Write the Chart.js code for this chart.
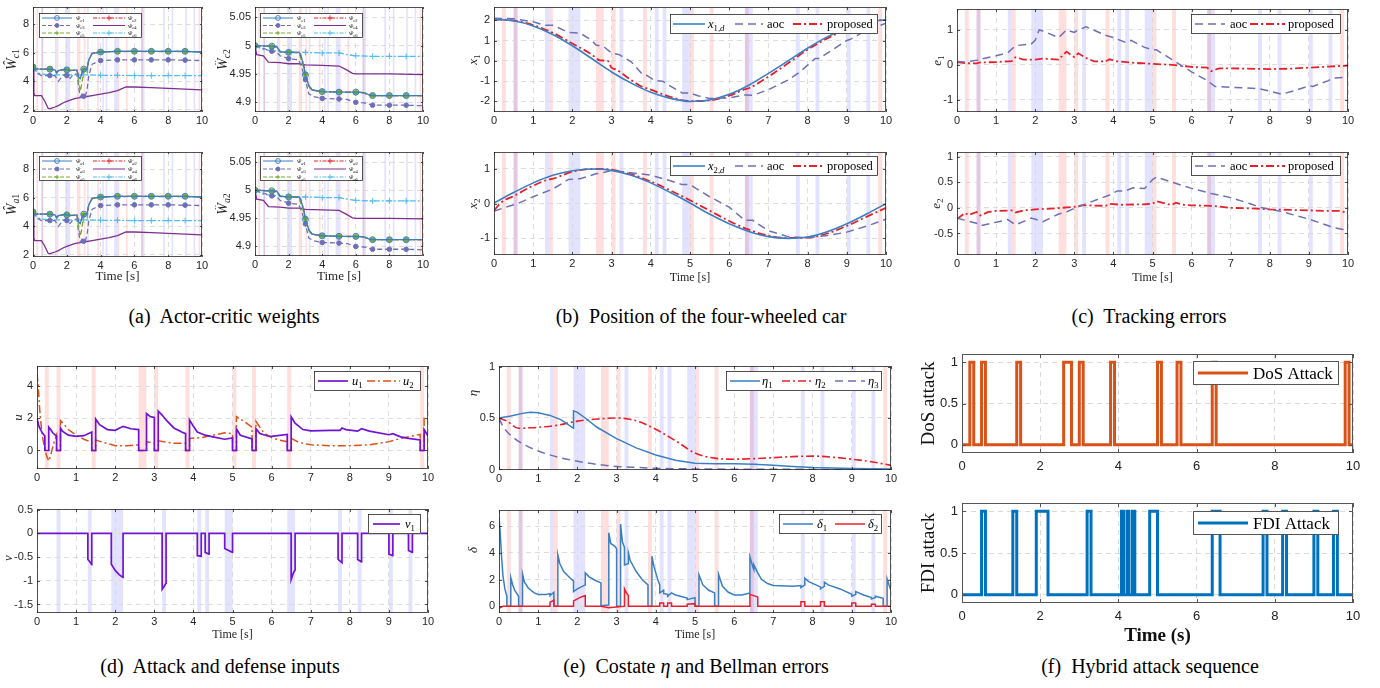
<!DOCTYPE html>
<html><head><meta charset="utf-8">
<script src="https://cdn.jsdelivr.net/npm/chart.js@4.4.1/dist/chart.umd.min.js"></script>
<style>
html,body{margin:0;padding:0;background:#fff;}
body{width:1380px;height:688px;position:relative;overflow:hidden;}
.cap{position:absolute;font-family:"Liberation Serif","Times New Roman",serif;font-size:20px;color:#000;white-space:nowrap;line-height:22px;transform:translateX(-50%);}
</style></head><body>
<div class="cap" style="left:224px;top:305px">(a)&nbsp; Actor-critic weights</div>
<div class="cap" style="left:701px;top:305px">(b)&nbsp; Position of the four-wheeled car</div>
<div class="cap" style="left:1149px;top:305px">(c)&nbsp; Tracking errors</div>
<div class="cap" style="left:220px;top:655px">(d)&nbsp; Attack and defense inputs</div>
<div class="cap" style="left:696px;top:655px">(e)&nbsp; Costate <i>η</i> and Bellman errors</div>
<div class="cap" style="left:1150px;top:655px">(f)&nbsp; Hybrid attack sequence</div>
<script>
// ---------------- DATA ----------------
const XT2 = [0,2,4,6,8,10];
const XT1 = [0,1,2,3,4,5,6,7,8,9,10];
const DOS = [[0.2,0.3],[0.5,0.6],[1.4,1.5],[2.6,2.8],[3.0,3.1],[3.8,3.9],[5.0,5.1],[5.5,5.6],[6.4,6.5],[9.8,9.9]];
const FDI = [[0.5,0.6],[1.3,1.4],[1.9,2.2],[3.2,3.3],[4.1,4.2],[4.3,4.4],[4.8,5.0],[6.4,6.6],[7.7,7.8],[8.2,8.3],[9.0,9.1],[9.5,9.6]];
const FDI_PULSES = [[0.5,0.6],[1.3,1.4],[1.9,2.2],[3.2,3.3],[4.08,4.13],[4.22,4.27],[4.36,4.42],[4.8,5.0],[6.4,6.6],[7.7,7.8],[8.2,8.3],[9.0,9.1],[9.5,9.6]];

// weights, first element
const w1_c1 = [[0,5.0],[0.1,4.87],[0.5,4.85],[1,4.85],[1.3,4.8],[1.4,4.6],[1.5,4.75],[1.9,4.85],[2,4.8],[2.2,4.75],[2.6,4.8],[2.7,4.3],[2.8,4.2],[2.9,4.6],[3,4.85],[3.1,4.85],[3.2,4.9],[3.3,5.5],[3.5,5.95],[4,6.05],[5,6.1],[6,6.1],[7,6.1],[8,6.1],[9,6.1],[10,6.05]];
const w1_c2 = w1_c1;
const w1_c3 = [[0,5.0],[0.2,4.6],[0.5,4.4],[1,4.4],[1.3,4.4],[1.5,4.0],[1.7,4.3],[1.9,4.5],[2,4.4],[2.2,4.2],[2.4,4.5],[2.6,4.5],[2.7,3.6],[2.8,2.9],[2.9,3.1],[3,2.95],[3.1,3.0],[3.2,3.4],[3.3,4.4],[3.5,5.2],[4,5.45],[5,5.5],[6,5.5],[7,5.5],[8,5.5],[9,5.48],[10,5.45]];
const w1_c4 = [[0,5.0],[0.05,3.2],[0.1,3.0],[0.5,3.0],[0.7,2.6],[0.9,2.1],[1,2.08],[1.3,2.2],[1.5,2.3],[1.8,2.5],[2,2.6],[2.5,2.8],[2.8,2.85],[3,2.9],[3.5,3.0],[4,3.1],[4.5,3.2],[5,3.35],[5.5,3.6],[6,3.6],[7,3.55],[8,3.5],[9,3.45],[10,3.4]];
const w1_c5 = [[0,5.0],[0.1,4.85],[1,4.85],[1.3,4.8],[1.4,4.55],[1.5,4.75],[2,4.8],[2.6,4.75],[2.7,4.0],[2.8,3.3],[2.9,3.9],[3,4.8],[3.2,4.6],[3.3,5.5],[3.5,5.95],[4,6.05],[5,6.1],[6,6.1],[7,6.1],[8,6.1],[9,6.1],[10,6.05]];
const w1_c6 = [[0,5.0],[0.3,4.6],[0.5,4.5],[1,4.45],[2,4.45],[3,4.45],[4,4.42],[5,4.42],[6,4.4],[7,4.4],[8,4.4],[9,4.4],[10,4.4]];
// weights, second element
const w2_c1 = [[0,5.0],[1,4.999],[1.3,4.998],[1.5,4.989],[2,4.988],[2.6,4.988],[2.7,4.985],[2.9,4.965],[3,4.948],[3.2,4.93],[3.4,4.922],[4,4.919],[5,4.918],[6,4.918],[6.5,4.917],[6.8,4.913],[7,4.912],[8,4.912],[9,4.912],[10,4.912]];
const w2_c2 = w2_c1;
const w2_c3 = [[0,5.0],[0.5,4.995],[1,4.99],[1.3,4.988],[1.5,4.982],[2,4.977],[2.6,4.975],[2.8,4.96],[3,4.94],[3.2,4.915],[3.5,4.91],[4,4.907],[5,4.906],[5.5,4.905],[6,4.9],[6.5,4.899],[7,4.895],[8,4.895],[9,4.895],[10,4.894]];
const w2_c4 = [[0,5.0],[0.1,4.984],[0.5,4.982],[0.8,4.971],[1.5,4.97],[2,4.968],[2.6,4.968],[3,4.966],[4,4.965],[5,4.964],[5.4,4.958],[5.8,4.951],[6,4.95],[8,4.95],[10,4.949]];
const w2_c5 = [[0,5.0],[1,4.998],[1.3,4.997],[1.5,4.989],[2,4.988],[2.6,4.987],[2.7,4.98],[2.9,4.96],[3,4.95],[3.2,4.928],[3.4,4.921],[4,4.919],[5,4.918],[6,4.917],[6.5,4.916],[6.8,4.913],[7,4.912],[8,4.912],[9,4.912],[10,4.912]];
const w2_c6 = [[0,5.0],[0.5,4.993],[1,4.991],[2,4.989],[3,4.988],[4,4.987],[5,4.987],[5.5,4.984],[6,4.982],[7,4.981],[8,4.981],[9,4.981],[10,4.981]];

// positions
const x1d = [[0,2.05],[0.5,1.97],[1,1.72],[1.5,1.3],[2,0.74],[2.5,0.1],[3,-0.55],[3.5,-1.1],[4,-1.55],[4.5,-1.85],[5,-2.0],[5.5,-1.93],[6,-1.65],[6.5,-1.2],[7,-0.62],[7.5,0.0],[8,0.62],[8.5,1.18],[9,1.6],[9.5,1.9],[10,2.02]];
const x1Aoc = [[0,2.1],[0.5,2.07],[1.0,1.92],[1.3,1.75],[1.5,1.75],[1.9,1.4],[2.2,1.36],[2.5,1.0],[2.6,0.78],[2.8,0.7],[3.0,0.38],[3.2,0.3],[3.5,-0.05],[3.8,-0.7],[3.9,-0.72],[4.1,-0.97],[4.3,-1.0],[4.5,-1.25],[4.8,-1.58],[5.0,-1.58],[5.2,-1.72],[5.5,-1.85],[6.0,-1.83],[6.4,-1.68],[6.6,-1.7],[7.0,-1.42],[7.5,-0.95],[7.8,-0.55],[8.2,0.12],[8.3,0.12],[8.6,0.5],[9.0,1.0],[9.1,1.07],[9.5,1.5],[10,1.85]];
const x1Prop = [[0,2.05],[0.5,1.98],[1,1.76],[1.5,1.38],[2,0.85],[2.5,0.3],[2.6,0.15],[2.7,0.02],[2.9,0.0],[3.0,-0.35],[3.1,-0.42],[3.5,-0.95],[3.8,-1.3],[3.9,-1.35],[4.0,-1.42],[4.5,-1.78],[5,-1.98],[5.5,-1.95],[6,-1.72],[6.4,-1.4],[6.5,-1.35],[7,-0.78],[7.5,-0.12],[8,0.55],[8.5,1.1],[9,1.55],[9.5,1.88],[9.8,2.0],[10,2.0]];
const x2d = [[0,0.02],[0.5,0.32],[1,0.6],[1.5,0.82],[2,0.95],[2.5,1.0],[3,0.96],[3.5,0.82],[4,0.6],[4.5,0.32],[5,0.02],[5.5,-0.3],[6,-0.58],[6.5,-0.8],[7,-0.95],[7.5,-1.0],[8,-0.96],[8.5,-0.81],[9,-0.58],[9.5,-0.3],[10,0.0]];
const x2Aoc = [[0,-0.22],[0.3,-0.1],[0.6,0.0],[1.0,0.2],[1.5,0.42],[1.9,0.7],[2.2,0.72],[2.6,0.86],[2.8,0.9],[3.0,0.96],[3.3,0.92],[4.0,0.82],[4.5,0.66],[4.8,0.55],[5.0,0.55],[5.5,0.2],[6.0,-0.1],[6.4,-0.48],[6.6,-0.48],[7.0,-0.78],[7.5,-0.95],[8.0,-0.98],[8.5,-0.92],[9.0,-0.82],[9.5,-0.65],[10,-0.45]];
const x2Prop = [[0,-0.2],[0.2,0.05],[0.5,0.22],[1,0.52],[1.4,0.7],[1.5,0.72],[2,0.92],[2.5,1.0],[2.8,1.0],[3.0,0.98],[3.5,0.85],[4,0.64],[4.5,0.38],[5,0.1],[5.5,-0.2],[6,-0.5],[6.5,-0.75],[7,-0.92],[7.5,-0.99],[8,-0.98],[8.5,-0.86],[9,-0.64],[9.5,-0.38],[10,-0.12]];

// tracking errors
const e1Aoc = [[0,0.1],[0.2,0.08],[0.5,0.13],[0.6,0.16],[1.0,0.26],[1.3,0.35],[1.5,0.55],[1.9,0.6],[2.0,0.7],[2.1,1.0],[2.2,0.97],[2.6,0.78],[2.8,1.0],[3.0,0.93],[3.1,1.0],[3.3,1.09],[3.8,0.85],[4.0,0.78],[4.3,0.65],[4.45,0.7],[4.8,0.5],[5.0,0.43],[5.1,0.43],[5.5,0.15],[6.0,-0.2],[6.4,-0.45],[6.6,-0.62],[7.0,-0.64],[7.7,-0.68],[8.0,-0.75],[8.3,-0.84],[8.6,-0.75],[9.0,-0.6],[9.1,-0.62],[9.5,-0.45],[9.6,-0.38],[10,-0.35]];
const e1Prop = [[0,0.08],[0.2,0.05],[0.5,0.04],[0.6,0.07],[1.0,0.08],[1.4,0.11],[1.5,0.22],[1.7,0.15],[2.0,0.15],[2.2,0.18],[2.6,0.15],[2.8,0.38],[3.0,0.22],[3.1,0.33],[3.3,0.2],[3.5,0.1],[3.8,0.1],[3.9,0.16],[4.1,0.1],[4.5,0.06],[5.0,0.03],[5.5,0.0],[6.0,-0.06],[6.4,-0.08],[6.5,-0.18],[6.7,-0.1],[7.0,-0.1],[8.0,-0.12],[8.5,-0.11],[9.0,-0.08],[9.5,-0.05],[10,-0.02]];
const e2Aoc = [[0,-0.2],[0.5,-0.3],[0.6,-0.35],[1.0,-0.28],[1.3,-0.23],[1.5,-0.33],[1.9,-0.2],[2.2,-0.27],[2.6,-0.12],[2.8,-0.08],[3.0,-0.01],[3.3,0.08],[3.9,0.25],[4.1,0.33],[4.3,0.33],[4.5,0.39],[4.8,0.38],[5.0,0.55],[5.1,0.6],[5.5,0.5],[6.0,0.38],[6.5,0.28],[7.0,0.2],[7.5,0.08],[7.8,0.0],[8.3,-0.07],[9.0,-0.22],[9.5,-0.35],[9.6,-0.38],[10,-0.44]];
const e2Prop = [[0,-0.22],[0.2,-0.1],[0.3,-0.14],[0.5,-0.08],[0.6,-0.15],[0.8,-0.08],[1.0,-0.06],[1.4,-0.05],[1.5,-0.09],[1.7,-0.05],[2.0,-0.03],[2.5,-0.01],[3.0,0.02],[3.2,0.05],[3.8,0.04],[3.9,0.08],[4.2,0.06],[4.8,0.07],[5.0,0.08],[5.1,0.13],[5.4,0.07],[5.5,0.06],[5.6,0.1],[5.8,0.06],[6.0,0.05],[6.5,0.04],[7.0,0.0],[7.5,-0.01],[8.0,-0.03],[8.5,-0.04],[9.0,-0.05],[9.5,-0.06],[9.8,-0.06],[10,-0.1]];

// inputs
const u1 = [[0,2.0],[0.05,1.5],[0.1,1.25],[0.15,1.05],[0.2,0.9],[0.201,0],[0.3,0],[0.301,1.45],[0.35,1.3],[0.4,1.1],[0.5,0.9],[0.501,0],[0.6,0],[0.601,1.4],[0.65,1.2],[0.8,0.95],[1.0,0.88],[1.2,0.92],[1.4,1.15],[1.401,0],[1.5,0],[1.501,1.95],[1.6,1.6],[1.8,1.3],[2.0,1.25],[2.2,1.5],[2.4,1.35],[2.6,1.3],[2.601,0],[2.8,0],[2.801,2.3],[2.9,2.1],[3.0,2.05],[3.001,0],[3.1,0],[3.101,2.45],[3.2,2.2],[3.3,1.9],[3.5,1.4],[3.7,1.15],[3.8,1.05],[3.801,0],[3.9,0],[3.901,1.9],[4.0,1.5],[4.1,1.15],[4.3,0.95],[4.5,0.85],[4.8,0.7],[5.0,0.78],[5.001,0],[5.1,0],[5.101,1.35],[5.2,0.95],[5.5,0.72],[5.501,0],[5.6,0],[5.601,1.35],[5.7,1.05],[5.9,0.9],[6.0,0.88],[6.4,1.0],[6.401,0],[6.5,0],[6.501,2.1],[6.6,1.7],[6.8,1.3],[7.0,1.22],[7.5,1.25],[7.75,1.25],[7.8,1.4],[7.9,1.3],[8.2,1.2],[8.3,1.35],[8.5,1.2],[9.0,0.98],[9.1,1.05],[9.3,0.85],[9.5,0.75],[9.8,0.65],[9.801,0],[9.9,0],[9.901,1.3],[10,0.9]];
const u2 = [[0,4.8],[0.03,4.0],[0.07,2.5],[0.12,1.2],[0.18,0.3],[0.24,-0.3],[0.3,-0.65],[0.35,-0.3],[0.42,0.4],[0.5,0.95],[0.501,0],[0.6,0],[0.601,1.85],[0.7,1.6],[0.8,1.3],[1.0,0.95],[1.2,0.7],[1.4,0.5],[1.401,0],[1.5,0],[1.501,0.65],[1.7,0.5],[2.0,0.3],[2.3,0.3],[2.6,0.35],[2.601,0],[2.8,0],[2.801,0.55],[3.0,0.45],[3.001,0],[3.1,0],[3.101,0.6],[3.5,0.45],[3.8,0.45],[3.801,0],[3.9,0],[3.901,0.75],[4.2,0.8],[4.5,0.95],[4.8,1.1],[5.0,1.05],[5.001,0],[5.1,0],[5.101,2.1],[5.3,1.8],[5.5,1.45],[5.501,0],[5.6,0],[5.601,1.8],[5.8,1.1],[6.0,0.8],[6.2,0.65],[6.4,0.55],[6.401,0],[6.5,0],[6.501,0.75],[6.7,0.5],[7.0,0.35],[7.5,0.3],[8.0,0.3],[8.5,0.35],[9.0,0.55],[9.3,0.75],[9.6,0.9],[9.8,1.0],[9.801,0],[9.9,0],[9.901,2.0],[10,1.9]];
const v1 = [[0,0],[1.3,0],[1.301,-0.55],[1.35,-0.6],[1.4,-0.66],[1.401,0],[1.9,0],[1.901,-0.65],[2.0,-0.78],[2.1,-0.87],[2.2,-0.93],[2.201,0],[3.2,0],[3.201,-1.18],[3.25,-1.12],[3.3,-1.05],[3.301,0],[4.1,0],[4.101,-0.47],[4.2,-0.48],[4.201,0],[4.3,0],[4.301,-0.4],[4.4,-0.44],[4.401,0],[4.8,0],[4.801,-0.32],[4.9,-0.36],[5.0,-0.4],[5.001,0],[6.5,0],[6.501,-0.97],[6.55,-0.85],[6.6,-0.77],[6.601,0],[7.7,0],[7.701,-0.55],[7.8,-0.62],[7.801,0],[8.2,0],[8.201,-0.55],[8.3,-0.6],[8.301,0],[9.0,0],[9.001,-0.44],[9.1,-0.47],[9.101,0],[9.5,0],[9.501,-0.36],[9.6,-0.4],[9.601,0],[10,0]];

// costate and Bellman errors
const eta1 = [[0,0.5],[0.3,0.52],[0.6,0.545],[0.8,0.555],[1.0,0.55],[1.3,0.525],[1.6,0.48],[1.9,0.4],[1.901,0.57],[2.0,0.555],[2.2,0.5],[2.5,0.41],[3.0,0.3],[3.5,0.21],[4.0,0.14],[4.5,0.09],[5.0,0.06],[5.5,0.055],[6.0,0.055],[6.5,0.05],[7.0,0.04],[7.5,0.03],[8.0,0.02],[9.0,0.01],[10,0.005]];
const eta2 = [[0,0.5],[0.2,0.47],[0.5,0.4],[0.8,0.405],[1.0,0.41],[1.5,0.43],[2.0,0.47],[2.5,0.49],[3.0,0.5],[3.3,0.49],[3.6,0.46],[4.0,0.39],[4.5,0.28],[5.0,0.16],[5.5,0.11],[6.0,0.1],[6.5,0.105],[7.0,0.115],[7.5,0.125],[8.0,0.13],[8.5,0.12],[9.0,0.1],[9.5,0.075],[10,0.04]];
const eta3 = [[0,0.5],[0.1,0.42],[0.2,0.37],[0.4,0.3],[0.6,0.25],[1.0,0.18],[1.5,0.12],[2.0,0.08],[2.5,0.05],[3.0,0.03],[3.5,0.02],[4.0,0.012],[5.0,0.005],[6.0,0.003],[8.0,0.001],[10,0.0]];
const delta1 = [[0,6.7],[0.03,5.5],[0.07,3.5],[0.1,2.3],[0.15,1.3],[0.2,0.75],[0.201,0],[0.3,0],[0.301,2.15],[0.35,1.6],[0.4,1.2],[0.5,0.75],[0.501,0],[0.6,0],[0.601,2.4],[0.65,1.8],[0.75,1.35],[0.9,1.0],[1.0,0.88],[1.2,0.88],[1.3,0.95],[1.301,0.8],[1.4,1.05],[1.401,0],[1.5,0],[1.501,3.85],[1.55,3.2],[1.65,2.6],[1.8,2.15],[1.9,1.9],[1.901,1.1],[2.0,1.3],[2.2,1.6],[2.201,2.5],[2.3,2.2],[2.45,1.95],[2.6,1.75],[2.601,0.05],[2.8,0.1],[2.801,5.5],[2.85,4.7],[2.95,4.5],[3.0,4.3],[3.001,0],[3.1,0],[3.101,6.15],[3.15,4.8],[3.2,4.4],[3.201,3.1],[3.3,3.2],[3.301,4.0],[3.35,3.4],[3.5,2.6],[3.65,2.0],[3.8,1.6],[3.801,0],[3.9,0],[3.901,3.75],[3.95,3.0],[4.05,2.0],[4.1,1.6],[4.101,1.0],[4.2,1.2],[4.201,0.95],[4.3,0.9],[4.301,0.75],[4.4,1.0],[4.5,0.85],[4.7,0.7],[4.8,0.62],[4.801,0.5],[5.0,0.65],[5.001,0],[5.1,0],[5.101,2.35],[5.2,1.6],[5.35,1.2],[5.5,1.0],[5.501,0],[5.6,0],[5.601,2.4],[5.7,1.5],[5.85,1.05],[6.0,0.85],[6.2,0.85],[6.4,1.0],[6.401,3.7],[6.48,2.9],[6.5,2.75],[6.501,3.1],[6.6,2.5],[6.7,2.0],[6.85,1.7],[7.0,1.55],[7.5,1.5],[7.7,1.55],[7.701,1.4],[7.8,1.6],[7.801,2.1],[7.9,1.85],[8.2,1.45],[8.201,1.3],[8.3,1.5],[8.301,1.8],[8.4,1.6],[8.7,1.3],[9.0,0.9],[9.001,0.75],[9.1,0.9],[9.101,1.1],[9.3,0.85],[9.5,0.65],[9.501,0.55],[9.6,0.65],[9.601,0.75],[9.8,0.6],[9.801,0],[9.9,0],[9.901,2.05],[9.95,1.6],[10,1.2]];
const delta2 = [[0,-0.15],[0.1,0],[1.3,0],[1.301,0.3],[1.4,0.45],[1.401,0],[1.9,0],[1.901,0.4],[2.0,0.55],[2.1,0.7],[2.2,0.8],[2.201,0],[2.6,0],[2.8,-0.1],[3.0,-0.05],[3.2,0],[3.201,1.3],[3.25,1.0],[3.3,0.8],[3.301,0],[4.1,0],[4.101,0.25],[4.2,0.25],[4.201,0],[4.3,0],[4.301,0.25],[4.4,0.25],[4.401,0],[4.8,0],[4.801,0.15],[5.0,0.2],[5.001,0],[6.4,0],[6.401,0.9],[6.5,0.8],[6.6,0.7],[6.601,0],[7.7,0],[7.701,0.35],[7.8,0.35],[7.801,0],[8.2,0],[8.201,0.35],[8.3,0.35],[8.301,0],[9.0,0],[9.001,0.25],[9.1,0.25],[9.101,0],[9.5,0],[9.501,0.15],[9.6,0.15],[9.601,0],[10,0]];

// ---------------- STYLE / HELPERS ----------------
const C = {blue:'#3a7fc2', slate:'#6f6fb8', red:'#e8202a', green:'#77ac30', purple:'#7e2f8e', cyan:'#4dbeee', violet:'#7213d4', orange:'#d95319', dos:'#d95319', fdi:'#0072bd'};
const DASH = [8,5], DDOT = [8,3,2,3];
const SERIF = '"Liberation Serif","Times New Roman",serif';
const SANS = '"Liberation Sans",Arial,Helvetica,sans-serif';

function stepSignal(iv){ const o=[[0,0]]; iv.forEach(([a,b])=>{o.push([a,0],[a,1],[b,1],[b,0]);}); o.push([10,0]); return o; }

function richMeasure(ctx, parts, size, fam){
  let w=0; const segs=parts.map(pt=>{const sz=pt.sub?size*0.7:size; const f=(pt.it?'italic ':'')+(pt.b?'bold ':'')+sz+'px '+fam; ctx.font=f; const ww=ctx.measureText(pt.t).width; w+=ww; return {pt,f,ww};});
  return {w,segs};
}
function drawRich(ctx, parts, x, y, size, fam, align, color){
  const m=richMeasure(ctx,parts,size,fam);
  let cx = align==='center' ? x-m.w/2 : x;
  ctx.fillStyle=color||'#000'; ctx.textBaseline='alphabetic'; ctx.textAlign='left';
  m.segs.forEach(s=>{ctx.font=s.f; ctx.fillText(s.pt.t,cx,y+(s.pt.sub?size*0.22:0)); cx+=s.ww;});
}
function drawMarker(ctx,s,x,y,scale){
  const r=(s.mr||3)*(scale||1);
  ctx.save(); ctx.setLineDash([]); ctx.lineWidth=1; ctx.strokeStyle=s.c;
  if(s.m==='circle'){ctx.beginPath();ctx.arc(x,y,r,0,Math.PI*2); if(s.mfill){ctx.fillStyle=s.mfill;ctx.fill();} ctx.stroke();}
  else if(s.m==='cross'){ctx.beginPath();ctx.moveTo(x-r,y);ctx.lineTo(x+r,y);ctx.moveTo(x,y-r);ctx.lineTo(x,y+r);ctx.stroke();}
  ctx.restore();
}

function decoPlugin(p, ox, oy){
  return {
    id:'deco',
    beforeDraw(chart){
      const ctx=chart.ctx, a=chart.chartArea, xs=chart.scales.x;
      ctx.save(); ctx.beginPath(); ctx.rect(a.left,a.top,a.right-a.left,a.bottom-a.top); ctx.clip();
      if(p.bands && p.bands[0]){ ctx.fillStyle='rgba(255,0,0,0.13)'; DOS.forEach(([s,e])=>{const x1=xs.getPixelForValue(s),x2=xs.getPixelForValue(e); ctx.fillRect(x1,a.top,x2-x1,a.bottom-a.top);}); }
      if(p.bands && p.bands[1]){ ctx.fillStyle='rgba(0,0,255,0.11)'; FDI.forEach(([s,e])=>{const x1=xs.getPixelForValue(s),x2=xs.getPixelForValue(e); ctx.fillRect(x1,a.top,x2-x1,a.bottom-a.top);}); }
      ctx.restore();
    },
    afterDatasetsDraw(chart){
      const ctx=chart.ctx, a=chart.chartArea, xs=chart.scales.x, ys=chart.scales.y;
      ctx.save(); ctx.setLineDash([]);
      ctx.strokeStyle=p.frame||'#262626'; ctx.lineWidth=p.flw||0.8;
      const tl=p.tickLen||3;
      ctx.beginPath();
      xs.ticks.forEach(t=>{const x=Math.round(xs.getPixelForValue(t.value))+0.5; ctx.moveTo(x,a.bottom); ctx.lineTo(x,a.bottom-tl); ctx.moveTo(x,a.top); ctx.lineTo(x,a.top+tl);});
      ys.ticks.forEach(t=>{const y=Math.round(ys.getPixelForValue(t.value))+0.5; ctx.moveTo(a.left,y); ctx.lineTo(a.left+tl,y); ctx.moveTo(a.right,y); ctx.lineTo(a.right-tl,y);});
      ctx.stroke();
      ctx.strokeRect(Math.round(a.left)+0.5,Math.round(a.top)+0.5,Math.round(a.right-a.left)-1,Math.round(a.bottom-a.top)-1);
      ctx.restore();
    },
    afterDraw(chart){
      const ctx=chart.ctx;
      if(p.leg){
        const L=p.leg; ctx.save();
        ctx.fillStyle='#fff'; ctx.fillRect(L.x-ox,L.y-oy,L.w,L.h);
        ctx.strokeStyle=L.bc||'#262626'; ctx.lineWidth=L.blw||0.8; ctx.strokeRect(L.x-ox+0.5,L.y-oy+0.5,L.w-1,L.h-1);
        L.items.forEach(it=>{
          const s=it.s, y=it.ly-oy;
          ctx.save(); ctx.strokeStyle=s.c; ctx.lineWidth=it.lw||s.lw||1.4; ctx.setLineDash(it.dash||s.dash||[]);
          ctx.beginPath(); ctx.moveTo(it.lx-ox,y); ctx.lineTo(it.lx+it.len-ox,y); ctx.stroke(); ctx.restore();
          if(s.m||s.legM) drawMarker(ctx,{...s,m:s.m||s.legM},it.lx+it.len/2-ox,y,it.ms||1);
          drawRich(ctx,it.label,it.tx-ox,y+L.fs*0.33,L.fs,SERIF,'left','#000');
        });
        ctx.restore();
      }
      if(p.yl){
        ctx.save(); ctx.translate(p.yl.x-ox,(p.yl.y!==undefined?p.yl.y:(p.T+p.B)/2)-oy); ctx.rotate(-Math.PI/2);
        drawRich(ctx,p.yl.p,0,p.yl.s*0.3,p.yl.s,SERIF,'center',p.yl.col||'#262626');
        ctx.restore();
      }
    }
  };
}

function makeChart(p){
  const mL=p.mL||30, mR=10, mT=4;
  const mB = p.xtitle ? (p.xtitle.y - p.B + 12) : 20;
  const W=p.R-p.L+mL+mR, H=p.B-p.T+mT+mB, ox=p.L-mL, oy=p.T-mT;
  const cv=document.createElement('canvas'); cv.width=W; cv.height=H;
  cv.style.cssText='position:absolute;left:'+ox+'px;top:'+oy+'px;width:'+W+'px;height:'+H+'px';
  document.body.appendChild(cv);
  const tf=p.tf||11, xd=p.xd||9;
  const datasets=p.series.map(s=>({
    data:s.data.map(([x,y])=>({x,y})),
    borderColor:s.c, borderWidth:s.lw||1.4, borderDash:s.dash||[], backgroundColor:'transparent',
    pointRadius:(s.m && !s.noPts)?(ctx=>(ctx.raw && Number.isInteger(ctx.raw.x) && ctx.raw.x<10)?s.mr:0):0,
    pointStyle:s.m==='cross'?'cross':'circle', pointBorderColor:s.c, pointBackgroundColor:s.mfill||'rgba(0,0,0,0)', pointBorderWidth:1,
    pointHoverRadius:0, showLine:true, fill:false,
    tension:s.smooth?0.4:0, cubicInterpolationMode:s.smooth?'monotone':'default'
  }));
  const xt=p.xt||XT1;
  const xtitle = p.xtitle ? {display:true, text:p.xtitle.t, color:p.xtitle.col||'#262626',
      font:{family:SERIF, size:p.xtitle.s||12, weight:p.xtitle.b?'bold':'normal'},
      padding:{top:0,bottom:(p.B+mB)-0.6*(p.xtitle.s||12)-p.xtitle.y}} : {display:false};
  new Chart(cv,{
    type:'scatter',
    data:{datasets},
    options:{
      responsive:false, animation:false, events:[],
      layout:{padding:{left:0,right:mR,top:mT,bottom:0}},
      plugins:{legend:{display:false}, tooltip:{enabled:false}},
      scales:{
        x:{type:'linear', min:0, max:10,
          afterBuildTicks:s=>{s.ticks=xt.map(v=>({value:v}));},
          afterFit:s=>{s.height=mB; s.paddingLeft=0; s.paddingRight=0;},
          ticks:{font:{family:SANS,size:tf}, color:p.tc||'#262626', padding:xd-0.6*tf, maxRotation:0, minRotation:0, autoSkip:false, callback:v=>String(v)},
          grid:{color:p.gc||'#d6d6d6', lineWidth:0.8, drawTicks:false},
          border:{display:false, dash:[5,4]},
          title:xtitle},
        y:{type:'linear', min:p.yr[0], max:p.yr[1],
          afterBuildTicks:s=>{s.ticks=p.yt.map(v=>({value:v}));},
          afterFit:s=>{s.width=mL; s.paddingTop=0; s.paddingBottom=0;},
          ticks:{font:{family:SANS,size:tf}, color:p.tc||'#262626', padding:p.ypad||4, autoSkip:false, callback:v=>String(v)},
          grid:{color:p.gc||'#d6d6d6', lineWidth:0.8, drawTicks:false},
          border:{display:false, dash:[5,4]}}
      }
    },
    plugins:[decoPlugin(p,ox,oy)]
  });
}

// series styles
function wSeries(a){ // a = [c1..c6]
  return [
    {data:a[0], c:C.blue, lw:1.3, m:'circle', mr:3},
    {data:a[4], c:C.green, lw:1.3, dash:[5,3], m:'circle', mr:2.3, mfill:C.green},
    {data:a[2], c:C.slate, lw:1.3, dash:[5,3], m:'circle', mr:2.3, mfill:C.slate},
    {data:a[5], c:C.cyan, lw:1.3, dash:[6,2,2,2], m:'cross', mr:3},
    {data:a[3], c:C.purple, lw:1.3},
    {data:a[1], c:C.red, lw:1.3, dash:[6,2,2,2]}
  ];
}
const SW = {
  c1:{c:C.blue, lw:1, m:'circle', mr:2.4},
  c2:{c:C.red, lw:1, dash:[4,1.5,1.5,1.5], legM:'cross', mr:2.6},
  c3:{c:C.slate, lw:1, dash:[4,2], m:'circle', mr:2, mfill:C.slate},
  c4:{c:C.purple, lw:1},
  c5:{c:C.green, lw:1, dash:[4,2], m:'cross', mr:2.2},
  c6:{c:C.cyan, lw:1, dash:[4,1.5,1.5,1.5], m:'cross', mr:2.6}
};
function legA(x,y,rows,k){
  const lab=n=>[{t:'ŵ',it:1},{t:k,sub:1,it:1},{t:String(n),sub:1}];
  return {x,y,w:103,h:25,fs:6.5,items:[
    {s:SW.c1,lx:x+3,ly:rows[0],len:30,tx:x+37,label:lab(1)},
    {s:SW.c2,lx:x+54,ly:rows[0],len:32,tx:x+89,label:lab(2)},
    {s:SW.c3,lx:x+3,ly:rows[1],len:30,tx:x+37,label:lab(3)},
    {s:SW.c4,lx:x+54,ly:rows[1],len:32,tx:x+89,label:lab(4)},
    {s:SW.c5,lx:x+3,ly:rows[2],len:30,tx:x+37,label:lab(5)},
    {s:SW.c6,lx:x+54,ly:rows[2],len:32,tx:x+89,label:lab(6)}
  ]};
}
const W1=[w1_c1,w1_c2,w1_c3,w1_c4,w1_c5,w1_c6], W2=[w2_c1,w2_c2,w2_c3,w2_c4,w2_c5,w2_c6];
const S = {
  ref:{c:C.blue, lw:1.6},
  aoc:{c:C.slate, lw:1.5, dash:DASH},
  prop:{c:C.red, lw:1.8, dash:DDOT},
  u1:{c:C.violet, lw:1.7},
  u2:{c:C.orange, lw:1.5, dash:DDOT},
  eta1:{c:C.blue, lw:1.5},
  eta2:{c:C.red, lw:1.6, dash:DDOT},
  eta3:{c:C.slate, lw:1.5, dash:DASH},
  d1:{c:C.blue, lw:1.5},
  d2:{c:C.red, lw:1.5},
  dos:{c:C.dos, lw:3},
  fdi:{c:C.fdi, lw:3}
};
const ser=(st,data,extra)=>Object.assign({},st,{data},extra||{});

const PLOTS=[
  {L:33,T:7,R:202,B:112, yr:[1.85,9.2], yt:[2,4,6,8], xt:XT2, tf:11, xd:8.5, bands:[1,1], mL:30, tickLen:2,
   series:wSeries(W1), yl:{p:[{t:'Ŵ',it:1},{t:'c',sub:1,it:1},{t:'1',sub:1}],x:12,s:14}, leg:legA(39,13,[18,25.5,33],'c')},
  {L:255,T:7,R:423,B:112, yr:[4.883,5.068], yt:[4.9,4.95,5,5.05], xt:XT2, tf:11, xd:8.5, bands:[1,1], mL:40, tickLen:2,
   series:wSeries(W2), yl:{p:[{t:'Ŵ',it:1},{t:'c',sub:1,it:1},{t:'2',sub:1}],x:223,s:14}, leg:legA(260,13,[18,25.5,33],'c')},
  {L:33,T:152,R:202,B:257, yr:[1.85,9.2], yt:[2,4,6,8], xt:XT2, tf:11, xd:8.5, bands:[1,1], mL:30, tickLen:2, xtitle:{t:'Time [s]',s:13,y:277},
   series:wSeries(W1), yl:{p:[{t:'Ŵ',it:1},{t:'a',sub:1,it:1},{t:'1',sub:1}],x:12,s:14}, leg:legA(39,156,[161,169,177],'a')},
  {L:255,T:152,R:423,B:256, yr:[4.883,5.068], yt:[4.9,4.95,5,5.05], xt:XT2, tf:11, xd:8.5, bands:[1,1], mL:40, tickLen:2, xtitle:{t:'Time [s]',s:13,y:277},
   series:wSeries(W2), yl:{p:[{t:'Ŵ',it:1},{t:'a',sub:1,it:1},{t:'2',sub:1}],x:223,s:14}, leg:legA(260,156,[161,169,177],'a')},

  {L:494,T:7,R:886,B:112, yr:[-2.52,2.65], yt:[-2,-1,0,1,2], bands:[1,1], mL:30,
   series:[ser(S.ref,x1d,{smooth:1}),ser(S.aoc,x1Aoc),ser(S.prop,x1Prop,{smooth:1})],
   yl:{p:[{t:'x',it:1},{t:'1',sub:1}],x:473,s:13},
   leg:{x:670,y:14,w:208,h:20,fs:12.5,items:[
     {s:S.ref,lx:673,ly:24,len:32,tx:708,label:[{t:'x',it:1},{t:'1,',sub:1},{t:'d',sub:1,it:1}]},
     {s:S.aoc,lx:735,ly:24,len:28,tx:767,label:[{t:'aoc'}]},
     {s:S.prop,lx:793,ly:24,len:30,tx:827,label:[{t:'proposed'}]}]}},
  {L:494,T:152,R:886,B:255, yr:[-1.48,1.49], yt:[-1,0,1], bands:[1,1], mL:30, xtitle:{t:'Time [s]',s:12,y:278},
   series:[ser(S.ref,x2d,{smooth:1}),ser(S.aoc,x2Aoc),ser(S.prop,x2Prop,{smooth:1})],
   yl:{p:[{t:'x',it:1},{t:'2',sub:1}],x:473,s:13},
   leg:{x:670,y:156,w:208,h:20,fs:12.5,items:[
     {s:S.ref,lx:673,ly:166,len:32,tx:708,label:[{t:'x',it:1},{t:'2,',sub:1},{t:'d',sub:1,it:1}]},
     {s:S.aoc,lx:735,ly:166,len:28,tx:767,label:[{t:'aoc'}]},
     {s:S.prop,lx:793,ly:166,len:30,tx:827,label:[{t:'proposed'}]}]}},

  {L:957,T:9,R:1348,B:112, yr:[-1.35,1.6], yt:[-1,0,1], bands:[1,1], mL:30,
   series:[ser(S.aoc,e1Aoc),ser(S.prop,e1Prop)],
   yl:{p:[{t:'e',it:1},{t:'1',sub:1}],x:937,s:13},
   leg:{x:1191,y:14,w:150,h:20,fs:12.5,items:[
     {s:S.aoc,lx:1195,ly:24,len:30,tx:1230,label:[{t:'aoc'}]},
     {s:S.prop,lx:1250,ly:24,len:35,tx:1288,label:[{t:'proposed'}]}]}},
  {L:957,T:152,R:1348,B:255, yr:[-0.92,1.09], yt:[-0.5,0,0.5,1], bands:[1,1], mL:30, xtitle:{t:'Time [s]',s:12,y:278},
   series:[ser(S.aoc,e2Aoc),ser(S.prop,e2Prop)],
   yl:{p:[{t:'e',it:1},{t:'2',sub:1}],x:936,s:13},
   leg:{x:1191,y:156,w:150,h:20,fs:12.5,items:[
     {s:S.aoc,lx:1195,ly:166,len:30,tx:1230,label:[{t:'aoc'}]},
     {s:S.prop,lx:1250,ly:166,len:35,tx:1288,label:[{t:'proposed'}]}]}},

  {L:37,T:366,R:428,B:469, yr:[-1.15,5.25], yt:[0,2,4], bands:[1,0], mL:30,
   series:[ser(S.u1,u1),ser(S.u2,u2)],
   yl:{p:[{t:'u',it:1}],x:18,s:13},
   leg:{x:314,y:371,w:107,h:20,fs:12.5,items:[
     {s:S.u1,lx:318,ly:381,len:30,tx:352,label:[{t:'u',it:1},{t:'1',sub:1}]},
     {s:S.u2,lx:367,ly:381,len:33,tx:403,label:[{t:'u',it:1},{t:'2',sub:1}]}]}},
  {L:37,T:509,R:428,B:613, yr:[-1.68,0.515], yt:[-1.5,-1,-0.5,0,0.5], bands:[0,1], mL:36, xtitle:{t:'Time [s]',s:12,y:635},
   series:[ser(S.u1,v1)],
   yl:{p:[{t:'v',it:1}],x:8,s:13,y:558},
   leg:{x:368,y:514,w:53,h:20,fs:12.5,items:[
     {s:S.u1,lx:373,ly:524,len:27,tx:405,label:[{t:'v',it:1},{t:'1',sub:1}]}]}},

  {L:499,T:366,R:891,B:470, yr:[-0.005,1.005], yt:[0,0.5,1], bands:[1,1], mL:36,
   series:[ser(S.eta1,eta1),ser(S.eta2,eta2,{smooth:1}),ser(S.eta3,eta3,{smooth:1})],
   yl:{p:[{t:'η',it:1}],x:473,s:13,y:393},
   leg:{x:726,y:371,w:156,h:20,fs:12.5,items:[
     {s:S.eta1,lx:730,ly:381,len:30,tx:762,label:[{t:'η',it:1},{t:'1',sub:1}]},
     {s:S.eta2,lx:782,ly:381,len:30,tx:815,label:[{t:'η',it:1},{t:'2',sub:1}]},
     {s:S.eta3,lx:835,ly:381,len:30,tx:868,label:[{t:'η',it:1},{t:'3',sub:1}]}]}},
  {L:499,T:510,R:891,B:613, yr:[-0.5,7.2], yt:[0,2,4,6], bands:[1,1], mL:36, xtitle:{t:'Time [s]',s:12,y:635},
   series:[ser(S.d2,delta2),ser(S.d1,delta1)],
   yl:{p:[{t:'δ',it:1}],x:473,s:13,y:550},
   leg:{x:779,y:514,w:103,h:20,fs:12.5,items:[
     {s:S.d1,lx:783,ly:524,len:30,tx:817,label:[{t:'δ',it:1},{t:'1',sub:1}]},
     {s:S.d2,lx:835,ly:524,len:30,tx:868,label:[{t:'δ',it:1},{t:'2',sub:1}]}]}},

  {L:962,T:354,R:1353,B:453, yr:[-0.1,1.1], yt:[0,0.5,1], xt:XT2, tf:13, xd:13, mL:50, frame:'#555', flw:1, tc:'#222', gc:'#cfcfcf', tickLen:4,
   series:[ser(S.dos,stepSignal(DOS))],
   yl:{p:[{t:'DoS attack'}],x:928,s:19,col:'#111'},
   leg:{x:1193,y:361,w:146,h:24,fs:17,bc:'#555',blw:1,items:[
     {s:S.dos,lx:1198,ly:373,len:50,tx:1253,label:[{t:'DoS Attack'}]}]}},
  {L:962,T:503,R:1353,B:603, yr:[-0.1,1.1], yt:[0,0.5,1], xt:XT2, tf:13, xd:13, mL:50, frame:'#555', flw:1, tc:'#222', gc:'#cfcfcf', tickLen:4,
   xtitle:{t:'Time (s)',s:19,b:1,y:636,col:'#111'},
   series:[ser(S.fdi,stepSignal(FDI_PULSES))],
   yl:{p:[{t:'FDI attack'}],x:928,s:19,col:'#111'},
   leg:{x:1193,y:511,w:146,h:24,fs:17,bc:'#555',blw:1,items:[
     {s:S.fdi,lx:1198,ly:523,len:50,tx:1253,label:[{t:'FDI Attack'}]}]}}
];
PLOTS.forEach(makeChart);
</script></body></html>
